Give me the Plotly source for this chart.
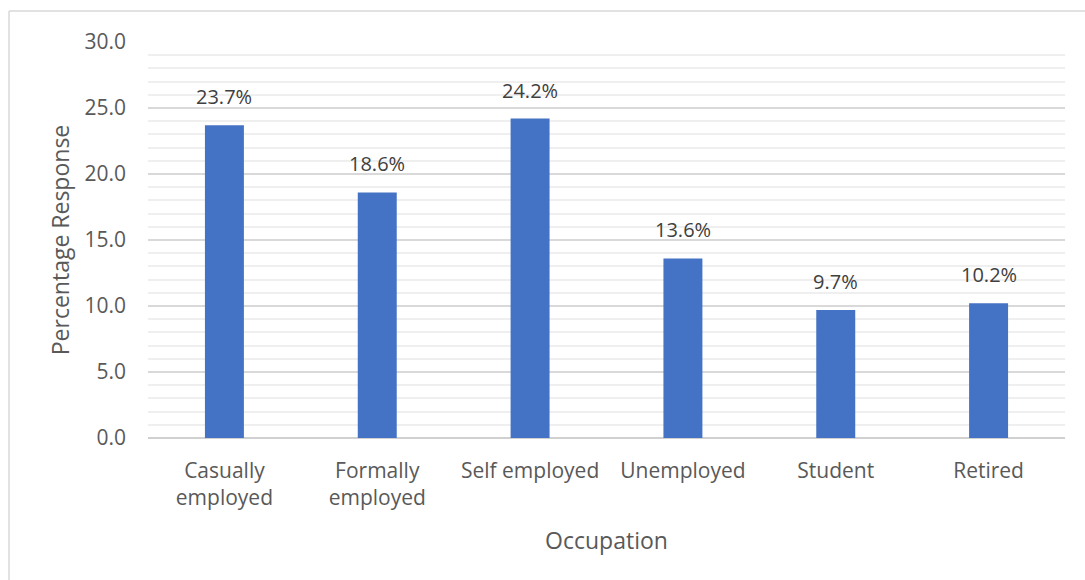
import plotly.graph_objects as go

occupations = ["Casually<br>employed", "Formally<br>employed", "Self employed",
               "Unemployed", "Student", "Retired"]
response_pct = [23.7, 18.6, 24.2, 13.6, 9.7, 10.2]
y_ticks = [0, 5, 10, 15, 20, 25, 30]

TEXT = "#595959"
FONT = "Open Sans"

fig = go.Figure(go.Bar(
    x=occupations,
    y=response_pct,
    marker=dict(color="#4472C4", line=dict(width=0)),
))

# value labels above each bar
for cat, v in zip(occupations, response_pct):
    fig.add_annotation(x=cat, y=v, text=f"{v:.1f}%", showarrow=False,
                       yanchor="bottom", yshift=13,
                       font=dict(family=FONT, size=20, color="#404040"))

fig.update_layout(
    width=1085, height=580,
    margin=dict(l=148, r=20, t=42, b=142),
    paper_bgcolor="white", plot_bgcolor="white",
    bargap=0.745,
    showlegend=False,
    font=dict(family=FONT, color=TEXT),
    xaxis=dict(
        title=dict(text="Occupation", font=dict(size=23, color=TEXT), standoff=22),
        tickfont=dict(size=21, color=TEXT),
        ticklabelstandoff=18,
        showgrid=False, showline=False, ticks="",
    ),
    yaxis=dict(
        title=dict(text="Percentage Response", font=dict(size=23, color=TEXT), standoff=8),
        range=[0, 30],
        tickvals=y_ticks,
        ticktext=[f"{v:.1f}" for v in y_ticks],
        tickfont=dict(size=21, color=TEXT),
        ticklabelstandoff=21,
        showgrid=True, gridcolor="#d9d9d9", gridwidth=1.5,
        zeroline=True, zerolinecolor="#d0d0d0", zerolinewidth=1.5,
        ticks="", ticklen=0,
        minor=dict(dtick=1, showgrid=True, gridcolor="#efefef", gridwidth=1.5),
    ),
)

# chart frame (top and left edges)
frame_x = (9 - 148) / 917
frame_y = (438 - 11) / 396
fig.add_shape(type="line", xref="paper", yref="paper",
              x0=frame_x, x1=1.2, y0=frame_y, y1=frame_y,
              line=dict(color="#d9d9d9", width=1.5))
fig.add_shape(type="line", xref="paper", yref="paper",
              x0=frame_x, x1=frame_x, y0=frame_y, y1=-0.6,
              line=dict(color="#d9d9d9", width=1.5))

fig.write_html("out.html")
